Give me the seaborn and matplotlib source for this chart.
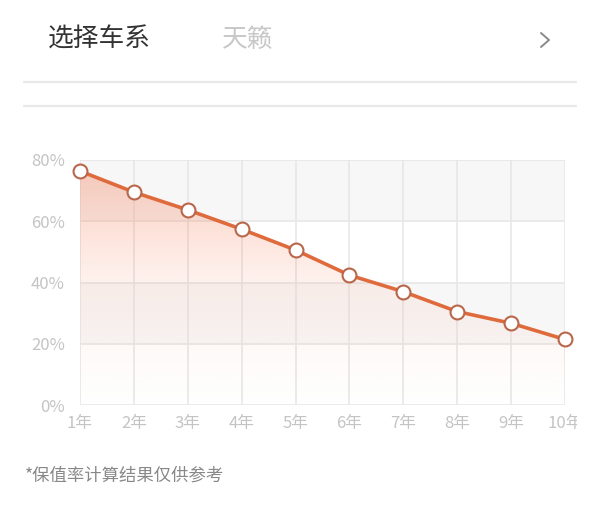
import numpy as np
import pandas as pd
import seaborn as sns
import matplotlib
matplotlib.use("Agg")
import matplotlib.pyplot as plt
from matplotlib.colors import LinearSegmentedColormap
from matplotlib.lines import Line2D
from matplotlib.patches import Rectangle

# ---- data ----
years = ["1年", "2年", "3年", "4年", "5年", "6年", "7年", "8年", "9年", "10年"]
retention = [76.4, 69.5, 63.7, 57.4, 50.6, 42.4, 37.0, 30.5, 26.7, 21.4]
y_ticks = [0, 20, 40, 60, 80]
y_tick_labels = ["0%", "20%", "40%", "60%", "80%"]
header_title = "选择车系"
header_model = "天籁"
footnote = "*保值率计算结果仅供参考"

sns.set_theme(style="white")
plt.rcParams["font.family"] = ["Noto Sans CJK SC", "DejaVu Sans"]

df = pd.DataFrame({"idx": np.arange(len(years)), "year": years, "value": retention})

fig = plt.figure(figsize=(6.0, 5.05), dpi=100)
fig.patch.set_facecolor("white")
ax = fig.add_axes([80 / 600, 100 / 505, 485 / 600, 245 / 505])
ax.set_facecolor("white")

# alternating bands
for lo, hi in [(20, 40), (60, 80)]:
    ax.axhspan(lo, hi, color="#f7f7f7", zorder=0, lw=0)

# grid
grid_c = "#e6e6e6"
for yv in y_ticks:
    ax.axhline(yv, color=grid_c, lw=1.1, zorder=1)
for xi in df["idx"]:
    ax.axvline(xi, color=grid_c, lw=1.1, zorder=1)

# gradient fill under line
poly = ax.fill_between(df["idx"], df["value"], 0, color="none", lw=0)
cmap = LinearSegmentedColormap.from_list(
    "g", [(1.0, 0.55, 0.40, 0.0), (0.98, 0.55, 0.40, 0.10), (0.95, 0.47, 0.32, 0.36)])
grad = np.linspace(0, 1, 256).reshape(-1, 1)
im = ax.imshow(grad, extent=[0, len(years) - 1, 0, max(retention)], aspect="auto",
               cmap=cmap, origin="lower", zorder=2, interpolation="bicubic")
im.set_clip_path(poly.get_paths()[0], transform=ax.transData)

# line + markers
sns.lineplot(data=df, x="idx", y="value", ax=ax, color="#df6b3d", lw=2.6, zorder=3,
             marker="o", markersize=10, markerfacecolor="white",
             markeredgecolor="#b8674a", markeredgewidth=1.5, clip_on=False)

ax.set_xlim(0, len(years) - 1)
ax.set_ylim(0, 80)
ax.set_xticks(df["idx"])
ax.set_xticklabels(years)
ax.set_yticks(y_ticks)
ax.set_yticklabels(y_tick_labels)
ax.tick_params(axis="both", length=0, labelsize=12, labelcolor="#c4c4c4")
ax.tick_params(axis="x", pad=7)
ax.tick_params(axis="y", pad=11)
ax.set_xlabel("")
ax.set_ylabel("")
for s in ax.spines.values():
    s.set_visible(False)

# right edge of the card crops the last tick label
fig.add_artist(Rectangle((577 / 600, 1 - 440 / 505), 23 / 600, 30 / 505,
                         transform=fig.transFigure, facecolor="white", edgecolor="none", zorder=10))

# header
fig.text(48 / 600, 1 - 40 / 505, header_title, fontsize=18.5, color="#333333", va="center", ha="left")
fig.text(222 / 600, 1 - 40 / 505, header_model, fontsize=18.5, color="#c8c8c8", va="center", ha="left")
fig.add_artist(Line2D([541 / 600, 549 / 600, 541 / 600],
                      [1 - 33 / 505, 1 - 40 / 505, 1 - 47 / 505],
                      transform=fig.transFigure, color="#8a8a8a", lw=1.4))
for yy in (82, 106):
    fig.add_artist(Line2D([24 / 600, 576 / 600], [1 - yy / 505, 1 - yy / 505],
                          transform=fig.transFigure, color="#e8e8e8", lw=1.6))

fig.text(25 / 600, 1 - 476 / 505, footnote, fontsize=12.5, color="#888888", va="center", ha="left")

fig.savefig("out.png", dpi=100, facecolor="white")
